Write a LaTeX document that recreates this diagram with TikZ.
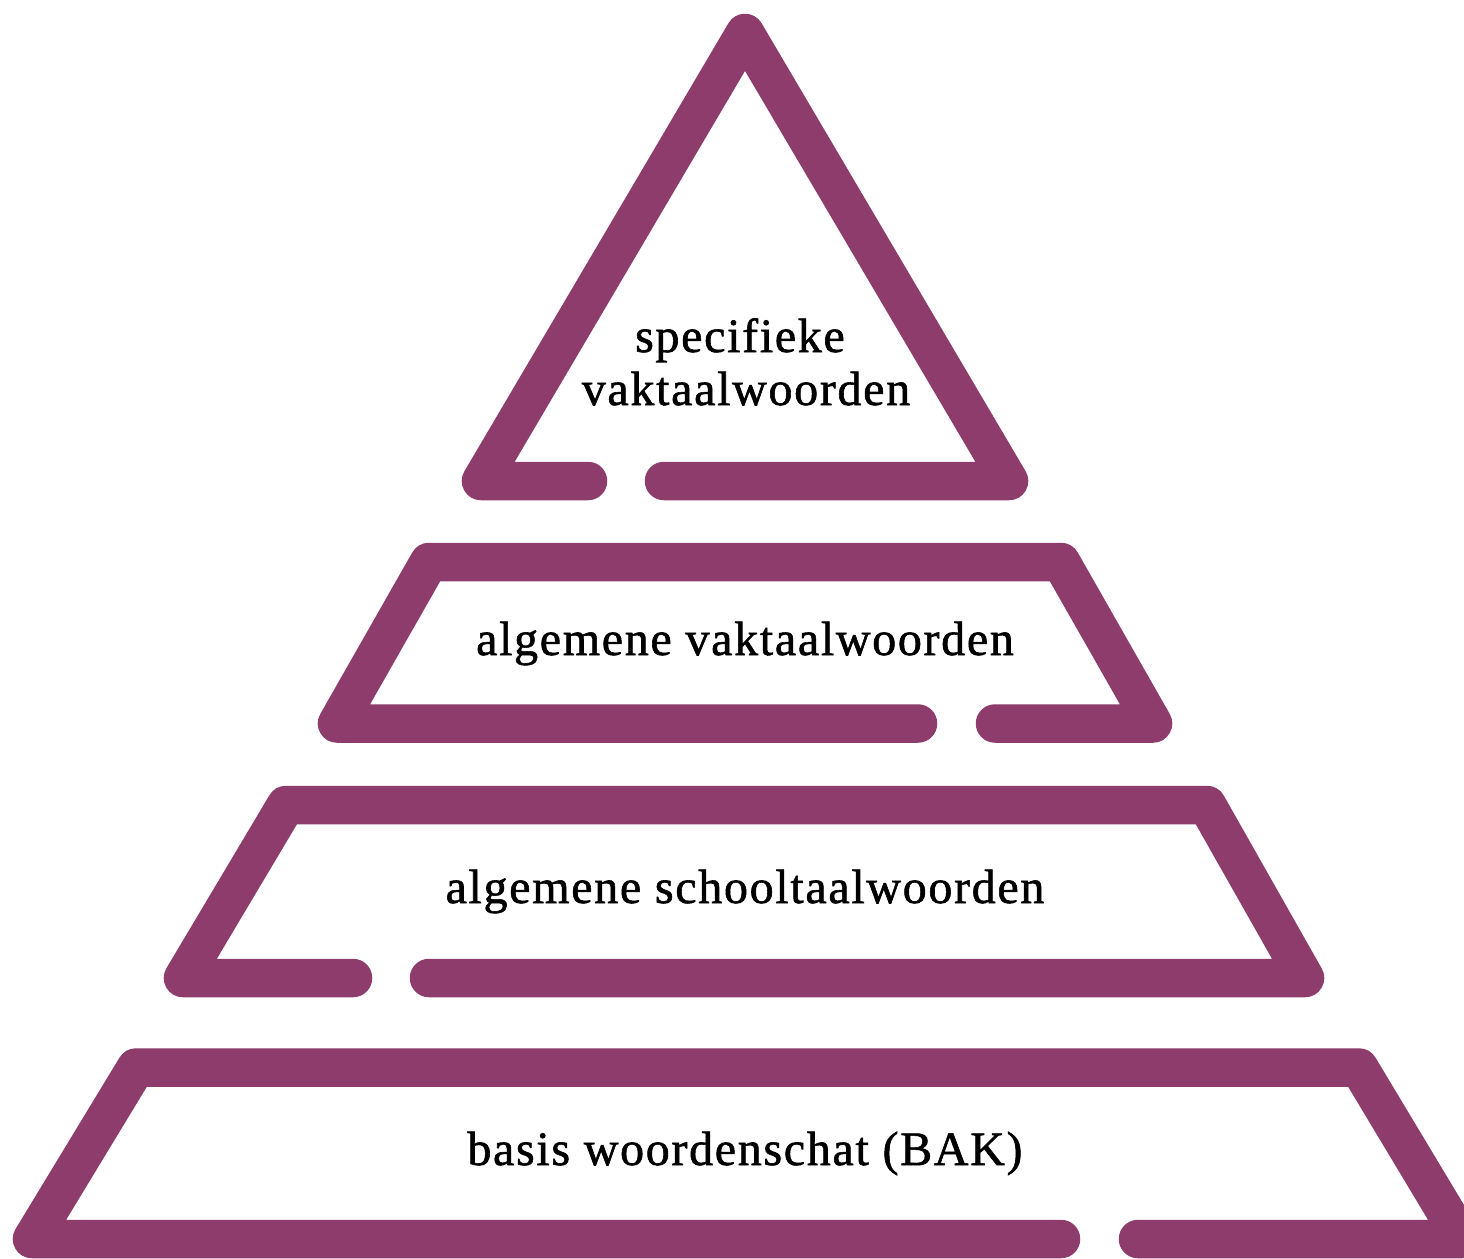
\documentclass[tikz,border=0pt]{standalone}
\usepackage{fontspec}
\setmainfont{Liberation Serif}[LetterSpace=3.5,FakeBold=1.2]
\definecolor{plum}{RGB}{142,60,108}
\begin{document}
\begin{tikzpicture}[x=1pt,y=-1pt,
  band/.style={draw=plum,line width=38.5pt,line join=round,line cap=round},
  lbl/.style={anchor=base,inner sep=0pt,font=\fontsize{48}{53}\selectfont,text=black}]
\useasboundingbox (0,0) rectangle (1464,1258);
% top triangle
\draw[band] (588,481) -- (481,481) -- (745,33) -- (1009,481) -- (664,481);
% second layer
\draw[band] (918,723.5) -- (337,723.5) -- (429,562) -- (1061,562) -- (1153,723.5) -- (995,723.5);
% third layer
\draw[band] (353,978) -- (183,978) -- (286,805) -- (1207,805) -- (1305,978) -- (429,978);
% bottom layer
\draw[band] (1061,1239) -- (32,1239) -- (136,1067.5) -- (1359,1067.5) -- (1462,1239) -- (1138,1239);
% labels
\node[lbl] (spec1) at (740,352) {specifieke};
\node[lbl] (spec2) at (746,405) {vaktaalwoorden};
\node[lbl] (alg) at (745,655) {algemene vaktaalwoorden};
\node[lbl] (school) at (745,903) {algemene schooltaalwoorden};
\node[lbl] (basis) at (745,1165) {basis woordenschat (BAK)};
\end{tikzpicture}
\end{document}
